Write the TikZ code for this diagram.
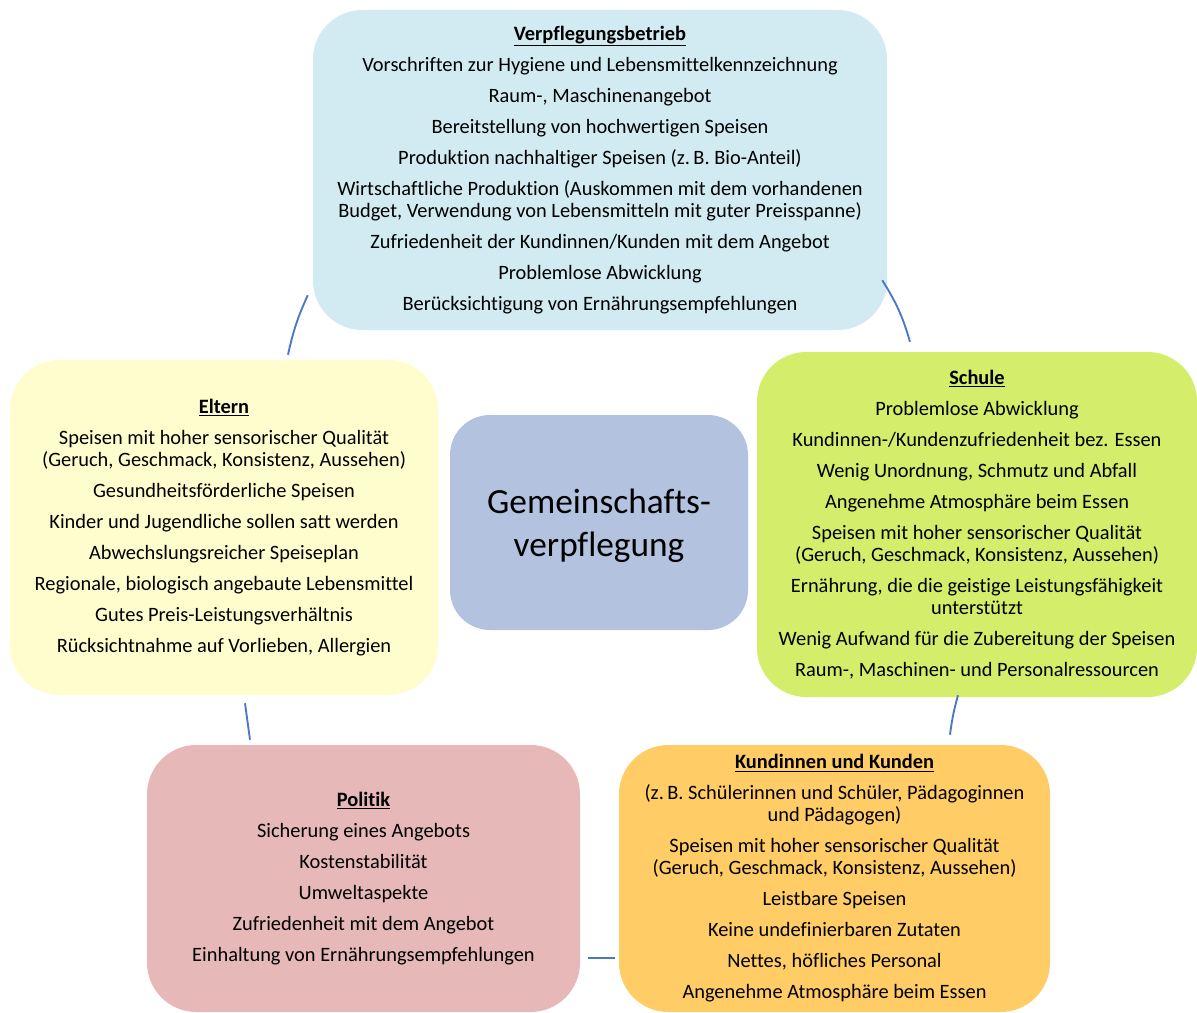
\documentclass[tikz,border=0pt]{standalone}
\usepackage{fontspec}
\setmainfont{Carlito}[Ligatures=NoCommon]
\usetikzlibrary{calc}
\definecolor{boxblue}{RGB}{210,234,241}
\definecolor{boxyellow}{RGB}{255,253,206}
\definecolor{boxcenter}{RGB}{179,195,223}
\definecolor{boxgreen}{RGB}{212,237,106}
\definecolor{boxpink}{RGB}{230,184,183}
\definecolor{boxorange}{RGB}{255,204,102}
\definecolor{linkblue}{RGB}{74,120,196}
\tikzset{
  topic/.style = {rectangle, rounded corners=37pt, draw=none, align=center, inner sep=0pt, font=\fontsize{15.3}{16.5}\selectfont},
  center/.style = {rectangle, rounded corners=30pt, draw=none, fill=boxcenter, align=center, minimum width=223.5pt, minimum height=161.25pt, text depth=0pt, font=\fontsize{26.5}{32.25}\selectfont},
  link/.style = {draw=linkblue, line width=1.4pt}
}

\begin{document}
\begin{tikzpicture}[x=0.75pt, y=-0.75pt]
\useasboundingbox (0,0) rectangle (1197,1013);

% Middle
\node[center] (mitte) at (599,522.5) {Gemeinschafts-\\verpflegung};

% Top
\node[topic, fill=boxblue, minimum width=430.5pt, minimum height=240pt] (betrieb) at (600,170) {\underline{\textbf{Verpflegungsbetrieb}}\\[6.75pt]
Vorschriften zur Hygiene und Lebensmittelkennzeichnung\\[6.75pt]
Raum-, Maschinenangebot\\[6.75pt]
Bereitstellung von hochwertigen Speisen\\[6.75pt]
Produktion nachhaltiger Speisen (z.\,B. Bio-Anteil)\\[6.75pt]
Wirtschaftliche Produktion (Auskommen mit dem vorhandenen\\Budget, Verwendung von Lebensmitteln mit guter Preisspanne)\\[6.75pt]
Zufriedenheit der Kundinnen/Kunden mit dem Angebot\\[6.75pt]
Problemlose Abwicklung\\[6.75pt]
Berücksichtigung von Ernährungsempfehlungen};

% Left and right
\node[topic, fill=boxyellow, minimum width=321pt, minimum height=251.25pt] (eltern) at (224,527.5) {\underline{\textbf{Eltern}}\\[6.75pt]
Speisen mit hoher sensorischer Qualität\\(Geruch, Geschmack, Konsistenz, Aussehen)\\[6.75pt]
Gesundheitsförderliche Speisen\\[6.75pt]
Kinder und Jugendliche sollen satt werden\\[6.75pt]
Abwechslungsreicher Speiseplan\\[6.75pt]
Regionale, biologisch angebaute Lebensmittel\\[6.75pt]
Gutes Preis-Leistungsverhältnis\\[6.75pt]
Rücksichtnahme auf Vorlieben, Allergien};

\node[topic, fill=boxgreen, minimum width=330pt, minimum height=258.75pt] (schule) at (977,524.5) {\underline{\textbf{Schule}}\\[6.75pt]
Problemlose Abwicklung\\[6.75pt]
Kundinnen-/Kundenzufriedenheit bez. Essen\\[6.75pt]
Wenig Unordnung, Schmutz und Abfall\\[6.75pt]
Angenehme Atmosphäre beim Essen\\[6.75pt]
Speisen mit hoher sensorischer Qualität\\(Geruch, Geschmack, Konsistenz, Aussehen)\\[6.75pt]
Ernährung, die die geistige Leistungsfähigkeit\\unterstützt\\[6.75pt]
Wenig Aufwand für die Zubereitung der Speisen\\[6.75pt]
Raum-, Maschinen- und Personalressourcen};

% Bottom row
\node[topic, fill=boxpink, minimum width=324.75pt, minimum height=200.25pt] (politik) at (363.5,878.5) {\underline{\textbf{Politik}}\\[6.75pt]
Sicherung eines Angebots\\[6.75pt]
Kostenstabilität\\[6.75pt]
Umweltaspekte\\[6.75pt]
Zufriedenheit mit dem Angebot\\[6.75pt]
Einhaltung von Ernährungsempfehlungen};

\node[topic, fill=boxorange, minimum width=323.25pt, minimum height=200.25pt] (kunden) at (834.5,878.5) {\underline{\textbf{Kundinnen und Kunden}}\\[6.75pt]
(z.\,B. Schülerinnen und Schüler, Pädagoginnen\\und Pädagogen)\\[6.75pt]
Speisen mit hoher sensorischer Qualität\\(Geruch, Geschmack, Konsistenz, Aussehen)\\[6.75pt]
Leistbare Speisen\\[6.75pt]
Keine undefinierbaren Zutaten\\[6.75pt]
Nettes, höfliches Personal\\[6.75pt]
Angenehme Atmosphäre beim Essen};

% Links
\draw[link] ($(betrieb.south west)+(-5,-35)$) to[bend right=6] ($(eltern.north)+(64,-5)$);
\draw[link] ($(betrieb.south east)+(-5,-50)$) to[bend left=8] ($(schule.north)+(-67,-10)$);
\draw[link] ($(schule.south)+(-19,-2)$) to[bend right=4] ($(kunden.north)+(115.5,-10)$);
\draw[link] ($(eltern.south)+(21,8)$) -- ($(politik.north)+(-113.5,-5)$);
\draw[link] ($(politik.south east)+(8,-54)$) -- ($(kunden.south west)+(-4,-54)$);

\end{tikzpicture}
\end{document}
